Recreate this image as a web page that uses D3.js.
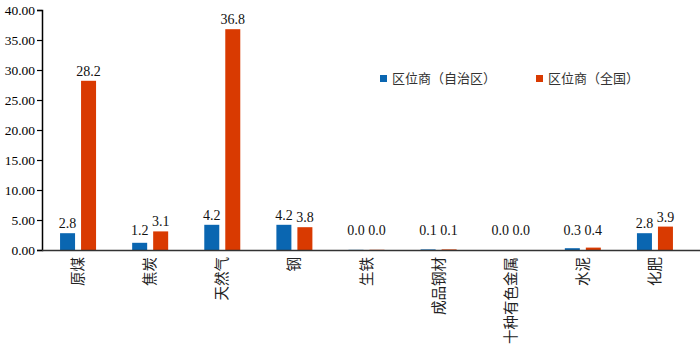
<!DOCTYPE html>
<html>
<head>
<meta charset="utf-8">
<script src="https://cdn.jsdelivr.net/npm/d3@7"></script>
<style>
  body { margin: 0; background: #fff; }
  svg { display: block; }
</style>
</head>
<body>
<svg id="chart" width="700" height="345"></svg>
<script>
// data
const categories = ["原煤", "焦炭", "天然气", "钢", "生铁", "成品钢材", "十种有色金属", "水泥", "化肥"];
const regionVals = [2.8, 1.2, 4.2, 4.2, 0.03, 0.1, 0.0, 0.3, 2.8];
const nationVals = [28.2, 3.1, 36.8, 3.8, 0.04, 0.1, 0.0, 0.4, 3.9];
const seriesNames = ["区位商（自治区）", "区位商（全国）"];
const yTicks = [0, 5, 10, 15, 20, 25, 30, 35, 40];

const colors = ["#0a66b1", "#d93a01"];
const serif = "'Liberation Serif', 'Times New Roman', serif";
const cjk = "'Noto Sans CJK SC', sans-serif";

const svg = d3.select("#chart");
const mLeft = 42, mRight = 691, mTop = 10, mBottom = 250;

const x = d3.scaleBand().domain(categories).range([mLeft, mRight]).padding(0);
const y = d3.scaleLinear().domain([0, 40]).range([mBottom, mTop]);

const barW = 15, gap = 6;

// y axis
const yAxis = svg.append("g")
  .attr("transform", `translate(${mLeft},0)`)
  .call(d3.axisLeft(y).tickValues(yTicks).tickFormat(d3.format(".2f")).tickSize(5).tickPadding(2));
yAxis.select(".domain").attr("stroke", "#000").attr("stroke-width", 1.5);
yAxis.selectAll(".tick line").attr("stroke", "#000").attr("stroke-width", 1.2);
yAxis.selectAll(".tick text")
  .attr("fill", "#000")
  .style("font-family", serif)
  .style("font-size", "13.5px");

// bars
const series = [regionVals, nationVals];
series.forEach((vals, s) => {
  const g = svg.append("g");
  const off = s === 0 ? -(barW + gap / 2) : gap / 2;
  g.selectAll("rect")
    .data(vals)
    .enter()
    .append("rect")
    .attr("x", (d, i) => x(categories[i]) + x.bandwidth() / 2 + off)
    .attr("y", d => y(d))
    .attr("width", barW)
    .attr("height", d => mBottom - y(d))
    .attr("fill", colors[s]);

  g.selectAll("text")
    .data(vals)
    .enter()
    .append("text")
    .attr("x", (d, i) => x(categories[i]) + x.bandwidth() / 2 + off + barW / 2)
    .attr("y", d => Math.min(y(d), mBottom - 10) - 5)
    .attr("text-anchor", "middle")
    .style("font-family", serif)
    .style("font-size", "14px")
    .attr("fill", "#111")
    .text(d => d.toFixed(1));
});

// x axis line
svg.append("line")
  .attr("x1", mLeft).attr("x2", 700)
  .attr("y1", mBottom + 0.5).attr("y2", mBottom + 0.5)
  .attr("stroke", "#333").attr("stroke-width", 1.5);

// category labels, rotated
svg.append("g").selectAll("text")
  .data(categories)
  .enter()
  .append("text")
  .attr("transform", d => `translate(${x(d) + x.bandwidth() / 2 + 5},${mBottom + 7}) rotate(-90)`)
  .attr("text-anchor", "end")
  .style("font-family", cjk)
  .style("font-size", "14.5px")
  .attr("fill", "#222")
  .text(d => d);

// legend
const legend = svg.append("g");
const legX = [380, 536];
seriesNames.forEach((name, i) => {
  legend.append("rect")
    .attr("x", legX[i]).attr("y", 75)
    .attr("width", 7).attr("height", 7)
    .attr("fill", colors[i]);
  legend.append("text")
    .attr("x", legX[i] + 12).attr("y", 83)
    .style("font-family", cjk)
    .style("font-size", "13px")
    .attr("fill", "#333")
    .text(name);
});
</script>
</body>
</html>
